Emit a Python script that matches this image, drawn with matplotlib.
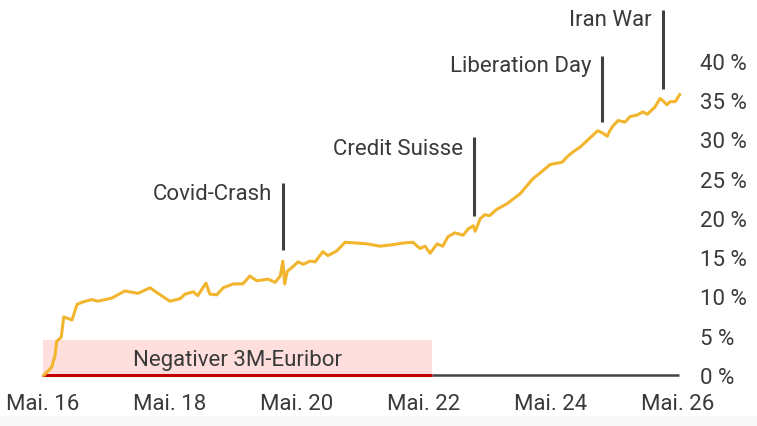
import matplotlib.pyplot as plt
from matplotlib.patches import Rectangle

# cumulative performance (x = decimal year, y = %)
years = [2016.35, 2016.47, 2016.52, 2016.55, 2016.62, 2016.66, 2016.79, 2016.87, 2016.96, 2017.10,
         2017.20, 2017.42, 2017.62, 2017.83, 2018.02, 2018.18, 2018.33, 2018.49, 2018.57, 2018.70,
         2018.77, 2018.90, 2018.96, 2019.07, 2019.17, 2019.33, 2019.48, 2019.59, 2019.70, 2019.88,
         2019.99, 2020.07, 2020.11, 2020.14, 2020.18, 2020.27, 2020.35, 2020.43, 2020.54, 2020.62,
         2020.74, 2020.82, 2020.96, 2021.09, 2021.28, 2021.44, 2021.64, 2021.85, 2022.00, 2022.16,
         2022.27, 2022.35, 2022.43, 2022.54, 2022.63, 2022.71, 2022.82, 2022.95, 2023.03, 2023.11,
         2023.14, 2023.22, 2023.29, 2023.37, 2023.48, 2023.64, 2023.85, 2024.05, 2024.19, 2024.32,
         2024.51, 2024.59, 2024.68, 2024.79, 2024.95, 2025.07, 2025.15, 2025.22, 2025.26, 2025.31,
         2025.39, 2025.50, 2025.58, 2025.69, 2025.78, 2025.85, 2025.97, 2026.05, 2026.10, 2026.16,
         2026.21, 2026.29, 2026.36]
perf = [0.0, 1.0, 2.4, 4.3, 4.8, 7.4, 7.0, 9.0, 9.3, 9.6,
        9.4, 9.8, 10.7, 10.4, 11.1, 10.2, 9.4, 9.7, 10.3, 10.6,
        10.1, 11.7, 10.3, 10.2, 11.1, 11.6, 11.6, 12.6, 12.0, 12.2,
        11.8, 12.6, 14.5, 11.6, 13.2, 13.8, 14.4, 14.1, 14.5, 14.4,
        15.7, 15.2, 15.8, 16.9, 16.8, 16.7, 16.4, 16.6, 16.8, 16.9,
        16.1, 16.4, 15.5, 16.7, 16.4, 17.6, 18.1, 17.8, 18.6, 19.0,
        18.3, 19.9, 20.4, 20.3, 21.1, 21.8, 23.1, 25.0, 25.9, 26.8,
        27.1, 27.8, 28.4, 29.0, 30.2, 31.1, 30.8, 30.4, 31.1, 31.7,
        32.4, 32.2, 32.9, 33.1, 33.5, 33.2, 34.1, 35.2, 34.9, 34.4,
        34.8, 34.8, 35.7]

tick_years = [2016.333, 2018.333, 2020.333, 2022.333, 2024.333, 2026.333]
tick_labels = ["Mai. 16", "Mai. 18", "Mai. 20", "Mai. 22", "Mai. 24", "Mai. 26"]
y_ticks = [0, 5, 10, 15, 20, 25, 30, 35, 40]

# events: label, date, line bottom, line top, text height
events = ["Covid-Crash", "Credit Suisse", "Liberation Day", "Iran War"]
event_x = [2020.11, 2023.12, 2025.14, 2026.10]
event_lo = [15.9, 20.3, 32.2, 36.4]
event_hi = [24.5, 30.3, 40.6, 46.5]
event_text_y = [23.1, 28.8, 39.4, 45.2]

neg_start, neg_end, neg_height = 2016.32, 2022.46, 4.5

plt.rcParams['font.family'] = ['Roboto', 'DejaVu Sans']
txt = '#3a3a3a'
fs = 16

fig = plt.figure(figsize=(7.57, 4.27), dpi=100)
# faint strip at the bottom
fig.patches.append(Rectangle((0, 0), 1, 10/427, transform=fig.transFigure,
                             facecolor='#f8f8f8', edgecolor='none', zorder=0))
ax = fig.add_axes([43/757, 51/427, 636/757, 366/427])
ax.set_xlim(2016.333, 2026.35)
ax.set_ylim(0, 46.6)
for s in ax.spines.values():
    s.set_visible(False)
ax.patch.set_alpha(0)

ax.add_patch(Rectangle((neg_start, 0), neg_end - neg_start, neg_height,
                       facecolor='#ffdede', edgecolor='none', zorder=1))
ax.text((neg_start + neg_end) / 2, 2.0, "Negativer 3M-Euribor", ha='center', va='center',
        fontsize=fs, color=txt, zorder=2)
ax.plot([neg_end, 2026.35], [0, 0], color='#444444', lw=1.8, solid_capstyle='butt',
        clip_on=False, zorder=2)
ax.plot([neg_start, neg_end], [0, 0], color='#c00000', lw=2.2, solid_capstyle='butt',
        clip_on=False, zorder=3)

ax.plot(years, perf, color='#f2b52e', lw=2.2, zorder=4, clip_on=False)

for lab, x, lo, hi, ty in zip(events, event_x, event_lo, event_hi, event_text_y):
    ax.plot([x, x], [lo, hi], color='#404040', lw=2.2, solid_capstyle='butt', clip_on=False)
    ax.annotate(lab, (x, ty), xytext=(-8, 0), textcoords='offset points',
                ha='right', va='center', fontsize=fs, color=txt)

ax.set_xticks(tick_years)
ax.set_xticklabels(tick_labels, fontsize=fs, color=txt)
ax.set_yticks(y_ticks)
ax.set_yticklabels([f"{v} %" for v in y_ticks], fontsize=fs, color=txt)
ax.yaxis.tick_right()
ax.tick_params(axis='y', length=0, pad=15)
ax.tick_params(axis='x', length=0, pad=13)

plt.savefig('out.png', dpi=100, facecolor='white')
